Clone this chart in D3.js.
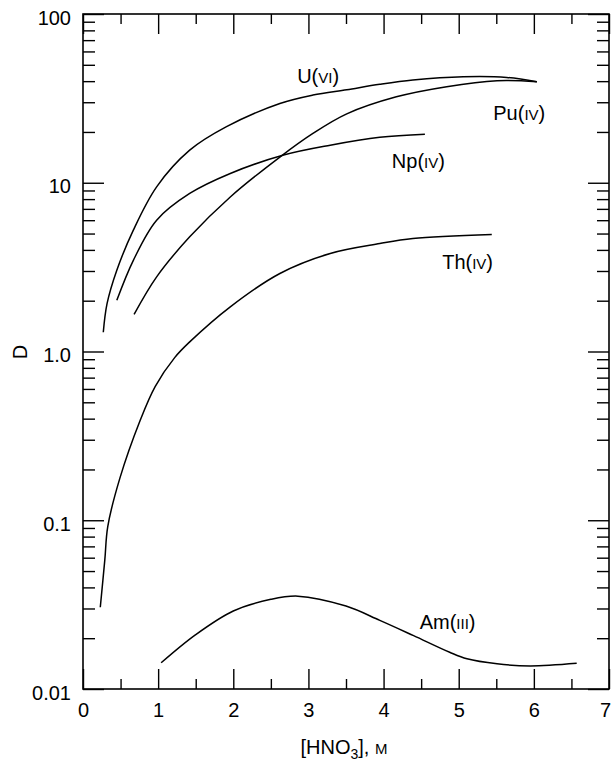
<!DOCTYPE html>
<html>
<head>
<meta charset="utf-8">
<script src="https://cdn.jsdelivr.net/npm/d3@7"></script>
<style>
  body { margin: 0; background: #fff; }
  svg { display: block; font-family: "Liberation Sans", Arial, Helvetica, sans-serif; }
  .tick text { font-size: 20px; fill: #000; }
  .tick line { stroke: #000; stroke-width: 1.4; }
</style>
</head>
<body>
<div id="chart"></div>
<script>
// [HNO3] (M) vs distribution ratio D
const uranium = [[0.27, 1.3], [0.32, 1.92], [0.45, 3.03], [0.67, 5.24], [0.98, 9.46], [1.42, 15.6],
  [1.91, 21.5], [2.62, 29.5], [3.06, 33.1], [3.51, 35.6], [3.95, 38.3], [4.39, 40.6],
  [5.06, 42.5], [5.64, 42.1], [6.04, 39.7]];
const plutonium = [[0.68, 1.66], [0.98, 2.77], [1.42, 4.78], [1.96, 8.24], [2.62, 14.2], [3.06, 19.6],
  [3.51, 25.6], [4.17, 32.3], [4.84, 37.1], [5.51, 40.2], [6.04, 39.7]];
const neptunium = [[0.45, 2.01], [0.67, 3.47], [0.98, 6.0], [1.42, 8.64], [1.96, 11.35], [2.67, 14.6],
  [3.29, 16.7], [3.95, 18.6], [4.55, 19.4]];
const thorium = [[0.23, 0.0305], [0.29, 0.058], [0.33, 0.092], [0.49, 0.177], [0.76, 0.39], [0.96, 0.62],
  [1.22, 0.92], [1.42, 1.14], [1.96, 1.84], [2.62, 2.9], [3.29, 3.81], [3.95, 4.36],
  [4.39, 4.67], [5.44, 4.93]];
const americium = [[1.04, 0.0143], [1.5, 0.021], [2.0, 0.029], [2.5, 0.034], [2.86, 0.0355],
  [3.5, 0.031], [3.95, 0.0255], [4.4, 0.0207], [4.88, 0.0165], [5.11, 0.0151], [5.51, 0.0141],
  [5.95, 0.0137], [6.57, 0.0142]];

const xTicks = [0, 1, 2, 3, 4, 5, 6, 7];
const yTicks = [0.01, 0.1, 1, 10, 100];
const yTickLabels = ["0.01", "0.1", "1.0", "10", "100"];

// label anchors in data units: [element, oxidation state, x, D]
const seriesLabels = [
  ["U", "VI", 2.85, 39],
  ["Pu", "IV", 5.46, 23.5],
  ["Np", "IV", 4.11, 12.2],
  ["Th", "IV", 4.78, 3.07],
  ["Am", "III", 4.48, 0.0228]
];

const width = 612, height = 762;
const margin = { top: 14, right: 3, bottom: 73, left: 83 };
const innerWidth = width - margin.left - margin.right;
const innerHeight = height - margin.top - margin.bottom;

const svg = d3.select("#chart").append("svg")
  .attr("width", width)
  .attr("height", height);

const chart = svg.append("g")
  .attr("transform", `translate(${margin.left},${margin.top})`);

const x = d3.scaleLinear().domain([0, 7]).range([0, innerWidth]);
const y = d3.scaleLog().domain([0.01, 100]).range([innerHeight, 0]);

const xMinor = d3.range(0.5, 7, 1);
const yMinor = [];
[0.01, 0.1, 1, 10].forEach((d) => {
  for (let k = 2; k <= 9; k++) yMinor.push(d * k);
});

// tick marks only, no labels, no domain line
function bare(g) {
  g.select(".domain").remove();
  g.selectAll("text").remove();
}

// bottom / top
chart.append("g")
  .attr("transform", `translate(0,${innerHeight})`)
  .call(d3.axisBottom(x).tickValues(xTicks).tickSize(-20).tickSizeOuter(0).tickPadding(14)
    .tickFormat(d3.format("d")))
  .call((g) => g.select(".domain").remove())
  .call((g) => g.selectAll("text").filter((d) => d === 7).attr("dx", "-0.2em"));
chart.append("g")
  .attr("transform", `translate(0,${innerHeight})`)
  .call(d3.axisBottom(x).tickValues(xMinor).tickSize(-10))
  .call(bare);
chart.append("g")
  .call(d3.axisTop(x).tickValues(xTicks).tickSize(-20))
  .call(bare);
chart.append("g")
  .call(d3.axisTop(x).tickValues(xMinor).tickSize(-10))
  .call(bare);

// left / right
chart.append("g")
  .call(d3.axisLeft(y).tickValues(yTicks).tickSize(-21).tickPadding(12)
    .tickFormat((d, i) => yTickLabels[i]))
  .call((g) => g.select(".domain").remove())
  .call((g) => g.selectAll("text").attr("dy", "0.5em"));
chart.append("g")
  .call(d3.axisLeft(y).tickValues(yMinor).tickSize(-12))
  .call(bare);
chart.append("g")
  .attr("transform", `translate(${innerWidth},0)`)
  .call(d3.axisRight(y).tickValues(yTicks).tickSize(-21))
  .call(bare);
chart.append("g")
  .attr("transform", `translate(${innerWidth},0)`)
  .call(d3.axisRight(y).tickValues(yMinor).tickSize(-12))
  .call(bare);

chart.append("rect")
  .attr("width", innerWidth)
  .attr("height", innerHeight)
  .attr("fill", "none")
  .attr("stroke", "#000")
  .attr("stroke-width", 1.6);

const line = d3.line()
  .x((d) => x(d[0]))
  .y((d) => y(d[1]))
  .curve(d3.curveCatmullRom.alpha(0.5));

chart.selectAll(".curve")
  .data([uranium, plutonium, neptunium, thorium, americium])
  .join("path")
  .attr("class", "curve")
  .attr("d", line)
  .attr("fill", "none")
  .attr("stroke", "#000")
  .attr("stroke-width", 1.5);

// write a run of text pieces side by side, each its own <text>
function writeRun(parent, x0, y0, pieces, anchor) {
  const g = parent.append("g");
  let cx = 0;
  pieces.forEach(([str, size, dy]) => {
    const t = g.append("text")
      .attr("x", cx)
      .attr("y", dy || 0)
      .attr("font-size", size)
      .text(str);
    cx += t.node().getComputedTextLength();
  });
  const shift = anchor === "middle" ? -cx / 2 : 0;
  g.attr("transform", `translate(${x0 + shift},${y0})`);
}

seriesLabels.forEach((d) => {
  writeRun(chart, x(d[2]), y(d[3]), [[d[0] + "(", 20], [d[1], 15], [")", 20]]);
});

// axis titles
writeRun(svg, margin.left + innerWidth / 2 - 2, 754,
  [["[HNO", 20], ["3", 14, 5], ["],\u00a0", 20], ["M", 15]], "middle");

svg.append("text")
  .attr("transform", "translate(27,352) rotate(-90)")
  .attr("text-anchor", "middle")
  .attr("font-size", 20)
  .text("D");
</script>
</body>
</html>
